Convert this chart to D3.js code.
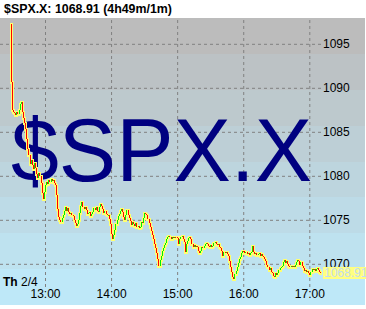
<!DOCTYPE html>
<html>
<head>
<meta charset="utf-8">
<script src="https://cdn.jsdelivr.net/npm/d3@7"></script>
<style>
  body { margin: 0; background: #fff; }
  svg { display: block; font-family: "Liberation Sans", Arial, sans-serif; }
</style>
</head>
<body>
<svg id="chart"></svg>
<script>
// chart values
var titleText = "$SPX.X: 1068.91 (4h49m/1m)";
var symbol = "$SPX.X";
var dayName = "Th";
var dayDate = "2/4";
var lastPrice = 1068.91;
var firstOpen = 1097.3;
var priceTicks = [1070, 1075, 1080, 1085, 1090, 1095];
var hourTicks = [13, 14, 15, 16, 17];

// 1-minute closes from 12:29
var closes = [
  1090.7, 1087.5, 1087.3, 1087.1, 1086.9, 1087.2, 1087.0, 1087.5, 1088.2, 1088.4,
  1087.2, 1086.6, 1086.0, 1085.3, 1084.2, 1083.0, 1082.4, 1081.3, 1081.8, 1081.2,
  1080.8, 1081.4, 1080.9, 1080.2, 1079.8, 1080.3, 1080.0, 1079.2, 1078.0, 1077.4,
  1078.2, 1078.9, 1079.3, 1079.1, 1079.5, 1079.3, 1079.6, 1079.4, 1079.5, 1079.2,
  1079.0, 1077.8, 1076.2, 1075.3, 1075.0, 1074.8, 1075.2, 1075.6, 1076.0, 1076.4,
  1076.0, 1076.3, 1075.9, 1075.7, 1075.8, 1075.6, 1075.4, 1075.0, 1074.6, 1074.3,
  1074.5, 1075.0, 1075.8, 1076.6, 1077.0, 1076.5, 1076.2, 1076.5, 1076.1, 1075.7,
  1075.8, 1075.9, 1075.4, 1075.7, 1075.9, 1076.3, 1076.1, 1076.5, 1076.0, 1075.9,
  1076.4, 1076.8, 1076.6, 1076.2, 1075.8, 1076.0, 1075.7, 1075.5, 1075.6, 1075.1,
  1074.5, 1073.4, 1072.8, 1073.3, 1073.8, 1074.5, 1075.0, 1075.4, 1075.7, 1076.0,
  1076.2, 1075.9, 1075.3, 1075.0, 1075.6, 1076.1, 1075.6, 1075.2, 1074.9, 1074.4,
  1074.8, 1074.5, 1074.3, 1074.6, 1074.2, 1074.3, 1074.1, 1074.2, 1074.7, 1074.6,
  1075.2, 1075.8, 1075.7, 1075.5, 1075.1, 1074.6, 1074.2, 1073.7, 1073.3, 1072.8,
  1072.3, 1071.8, 1071.2, 1070.5, 1069.7, 1070.4, 1070.9, 1071.4, 1071.8, 1072.1,
  1072.4, 1072.8, 1073.0, 1073.2, 1073.1, 1072.8, 1073.0, 1072.9, 1073.1, 1073.0,
  1073.0, 1072.9, 1072.3, 1072.8, 1073.0, 1073.2, 1072.8, 1072.5, 1071.3, 1072.2,
  1072.6, 1072.9, 1073.0, 1072.8, 1072.3, 1071.9, 1072.1, 1071.9, 1072.0, 1071.9,
  1071.5, 1071.2, 1071.5, 1071.9, 1071.8, 1072.0, 1072.2, 1072.4, 1072.2, 1072.0,
  1071.9, 1072.1, 1071.9, 1072.0, 1072.4, 1072.5, 1072.3, 1072.1, 1072.3, 1071.9,
  1071.8, 1071.4, 1070.9, 1071.3, 1071.2, 1071.3, 1071.1, 1070.9, 1070.3, 1069.6,
  1069.1, 1068.5, 1068.3, 1068.8, 1069.2, 1069.6, 1070.1, 1070.5, 1070.8, 1071.2,
  1071.5, 1071.4, 1071.2, 1071.3, 1071.1, 1071.2, 1071.0, 1071.2, 1071.3, 1072.0,
  1071.3, 1071.1, 1071.2, 1071.0, 1071.1, 1071.2, 1070.9, 1071.1, 1070.9, 1070.8,
  1070.6, 1070.3, 1069.9, 1069.6, 1069.3, 1069.5, 1069.1, 1068.9, 1068.6, 1068.5,
  1068.9, 1068.7, 1068.9, 1069.3, 1069.5, 1069.6, 1069.8, 1070.2, 1070.4, 1070.1,
  1070.3, 1070.0, 1069.8, 1069.6, 1069.8, 1069.7, 1069.8, 1069.6, 1069.9, 1070.2,
  1070.4, 1070.3, 1069.9, 1070.2, 1069.7, 1069.5, 1069.2, 1069.3, 1069.1, 1069.2,
  1069.0, 1068.7, 1069.1, 1069.4, 1069.3, 1069.4, 1069.2, 1069.4, 1069.5, 1069.3,
  1069.1, 1068.91
];

var width = 366, height = 309;
var plot = {left: 0, top: 18, right: 322, bottom: 287, bgRight: 365, bgBottom: 305};

var svg = d3.select("#chart")
    .attr("width", width)
    .attr("height", height);

var day = function(h, m){
    return new Date(2010, 1, 4, h, m, 0);
}

var xScale = d3.scaleTime()
    .domain([new Date(2010, 1, 4, 12, 19, 8), new Date(2010, 1, 4, 17, 11, 32)])
    .range([plot.left, plot.right]);

var yScale = d3.scaleLinear()
    .domain([1070, 1095])
    .range([263.8, 43.8]);

// build bars: open = previous close
var bars = closes.map(function(c, i){
    var o = i == 0 ? firstOpen : closes[i - 1];
    return {time: day(12, 29 + i), open: o, close: c};
});

// banded gray-to-blue background
var nBands = 8;
var bandH = (plot.bgBottom - plot.top) / nBands;
var bandColor = d3.interpolateRgb("rgb(188,188,188)", "rgb(190,232,248)");
svg.append("g")
    .selectAll("rect")
    .data(d3.range(nBands))
    .enter()
    .append("rect")
    .attr("x", 0)
    .attr("y", function(d){ return Math.round(plot.top + d * bandH); })
    .attr("width", plot.bgRight)
    .attr("height", function(d){
        return Math.round(plot.top + (d + 1) * bandH) - Math.round(plot.top + d * bandH);
    })
    .attr("fill", function(d){ return bandColor(d / (nBands - 1)); })
    .attr("shape-rendering", "crispEdges");

// grid (horizontal) + price labels
var yAxis = svg.append("g")
    .attr("class", "y-axis")
    .call(d3.axisRight(yScale)
        .tickValues(priceTicks)
        .tickSize(plot.right)
        .tickPadding(1)
        .tickFormat(d3.format("d")));
yAxis.select(".domain").remove();
yAxis.selectAll("line")
    .attr("stroke", "#808080")
    .attr("stroke-dasharray", "3,3");

// grid (vertical) + hour labels
var xAxis = svg.append("g")
    .attr("class", "x-axis")
    .attr("transform", "translate(0," + plot.bottom + ")")
    .call(d3.axisBottom(xScale)
        .tickValues(hourTicks.map(function(h){ return day(h, 0); }))
        .tickSize(-(plot.bottom - plot.top))
        .tickPadding(2)
        .tickFormat(d3.timeFormat("%H:%M")));
xAxis.select(".domain").remove();
xAxis.selectAll("line")
    .attr("stroke", "#808080")
    .attr("stroke-dasharray", "3,3");

svg.selectAll(".tick text")
    .attr("fill", "#000")
    .attr("font-size", 12)
    .attr("font-family", "Liberation Sans, Arial, sans-serif");

// watermark symbol
svg.append("text")
    .attr("x", 11)
    .attr("y", 181)
    .attr("font-size", 89)
    .attr("fill", "#000080")
    .attr("textLength", 301)
    .attr("lengthAdjust", "spacingAndGlyphs")
    .text(symbol);

// candles: yellow halo first, then coloured body
var barX = function(d){ return Math.round(xScale(d.time)); };
var barTop = function(d){ return Math.round(yScale(Math.max(d.open, d.close))); };
var barBot = function(d){ return Math.round(yScale(Math.min(d.open, d.close))); };

svg.append("g")
    .selectAll("rect")
    .data(bars)
    .enter()
    .append("rect")
    .attr("x", function(d){ return barX(d) - 1; })
    .attr("y", function(d){ return barTop(d) - 1; })
    .attr("width", 3)
    .attr("height", function(d){ return barBot(d) - barTop(d) + 3; })
    .attr("fill", "#ffff70")
    .attr("shape-rendering", "crispEdges");

svg.append("g")
    .selectAll("rect")
    .data(bars.filter(function(d){ return d.open != d.close; }))
    .enter()
    .append("rect")
    .attr("x", barX)
    .attr("y", barTop)
    .attr("width", 1)
    .attr("height", function(d){ return Math.max(1, barBot(d) - barTop(d)); })
    .attr("fill", function(d){ return d.close < d.open ? "#ff0000" : "#00ee00"; })
    .attr("shape-rendering", "crispEdges");

// last price tag
svg.append("rect")
    .attr("x", plot.right + 1)
    .attr("y", Math.round(yScale(lastPrice)) - 6)
    .attr("width", width - plot.right - 1)
    .attr("height", 12)
    .attr("fill", "#ffff80");
svg.append("text")
    .attr("x", plot.right + 2)
    .attr("y", Math.round(yScale(lastPrice)) + 4)
    .attr("font-size", 12)
    .attr("fill", "#c4dcef")
    .text(d3.format(".2f")(lastPrice));

// date label
var dateLabel = svg.append("text")
    .attr("x", 3)
    .attr("y", 286)
    .attr("font-size", 12)
    .attr("fill", "#000");
dateLabel.append("tspan").attr("font-weight", "bold").text(dayName + " ");
dateLabel.append("tspan").text(dayDate);

// title
svg.append("rect")
    .attr("x", 0).attr("y", 0)
    .attr("width", width).attr("height", plot.top)
    .attr("fill", "#fff");
svg.append("text")
    .attr("x", 4)
    .attr("y", 13)
    .attr("font-size", 12)
    .attr("font-weight", "bold")
    .attr("fill", "#000")
    .attr("textLength", 168)
    .attr("lengthAdjust", "spacingAndGlyphs")
    .text(titleText);
</script>
</body>
</html>
